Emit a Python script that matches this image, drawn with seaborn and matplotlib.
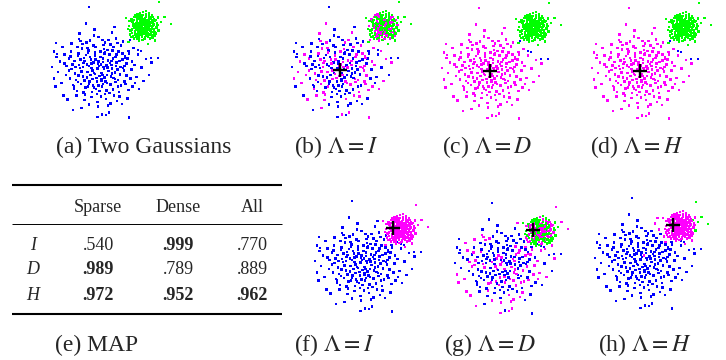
import seaborn as sns
import matplotlib.pyplot as plt
import pandas as pd

sns.set_style("white")
plt.rcParams["font.family"] = ["Liberation Serif", "DejaVu Serif"]
plt.rcParams["mathtext.fontset"] = "stix"

W, H = 726, 360
BROAD_PX = 18.0  # pixels per unit, sparse cluster
DENSE_PX = 16.0  # pixels per unit, dense cluster

# sparse (wide) gaussian, centred on its own mean
broad_pts = [
    (-0.12, 0.35), (0.84, -0.51), (-1.23, 0.77), (0.41, 1.12), (-0.66, -0.93), (1.37, 0.22), (0.05, -1.48), (-1.89, -0.27), (0.73, 0.64), (-0.34, -0.18),
    (1.05, -1.21), (-0.97, 1.44), (0.22, 0.08), (-0.51, 0.59), (1.62, 0.91), (-1.45, -1.06), (0.38, -0.72), (-0.08, 1.83), (0.96, 0.03), (-2.21, 0.46),
    (0.57, -1.87), (-0.73, -0.41), (1.18, 1.35), (-1.12, 0.11), (0.14, -0.29), (-0.29, 0.96), (2.04, -0.38), (-0.87, -1.67), (0.63, 0.27), (-1.61, 1.02),
    (0.29, 1.54), (-0.44, -1.22), (1.41, -0.77), (-0.18, -0.64), (0.88, 1.76), (-1.33, -0.55), (0.02, 0.71), (-2.48, -0.92), (1.77, 0.48), (-0.61, 0.23),
    (0.47, -0.05), (-1.02, -2.11), (0.79, -1.43), (-0.25, 1.27), (1.26, 0.57), (-1.71, 0.64), (0.11, -0.93), (-0.92, 0.39), (2.31, 0.15), (-0.39, -0.87),
    (0.66, 2.07), (-1.17, 1.71), (0.35, -1.15), (-0.02, -0.33), (1.53, -1.58), (-2.02, -1.41), (0.92, 0.86), (-0.56, 1.63), (0.18, 0.45), (-1.38, -0.19),
    (1.12, -0.24), (-0.79, 0.84), (0.51, -2.36), (-0.15, -1.79), (1.86, 1.22), (-1.53, 0.31), (0.27, 0.99), (-0.69, -0.12), (0.99, -0.92), (-2.67, 0.18),
    (0.44, 0.52), (-0.31, 2.24), (1.33, -0.03), (-1.06, -0.78), (0.07, -0.58), (-0.48, 0.12), (2.18, -1.05), (-1.25, 1.28), (0.61, -0.37), (-0.83, -1.35),
    (0.19, 1.38), (-1.96, 0.87), (1.48, 0.35), (-0.22, -1.06), (0.85, -0.66), (-0.64, 1.09), (0.32, -1.62), (-1.49, -0.83), (1.02, 1.04), (-0.05, 0.22),
    (2.56, 0.62), (-0.94, -0.36), (0.54, 0.87), (-1.81, -1.63), (1.21, -1.89), (-0.37, 0.43), (0.03, 1.02), (-1.14, 2.02), (0.71, -1.07), (-0.58, -0.64),
    (1.69, -0.46), (-2.33, -0.11), (0.24, -0.41), (-0.75, 1.52), (0.93, 0.41), (-1.28, -1.18), (0.48, 1.68), (-0.11, -2.02), (1.39, 0.79), (-1.57, 0.05),
    (0.16, 0.63), (-0.42, -0.49), (1.94, -0.72), (-0.89, 0.66), (0.59, -0.81), (-1.03, -0.08), (0.36, 0.24), (-0.17, -1.33), (1.15, 0.17), (-2.09, 1.27),
    (0.76, 1.29), (-0.62, -1.91), (1.57, -1.12), (-1.41, 0.49), (0.09, -0.17), (-0.27, 0.81), (2.73, -0.27), (-0.81, -0.98), (0.42, 0.15), (-1.19, 0.93),
    (0.67, -0.19), (-0.33, 1.91), (1.08, -1.46), (-1.66, -0.47), (0.21, 1.17), (-0.53, -0.27), (0.87, 0.71), (-2.41, 0.71), (1.29, 1.58), (-0.99, 1.19),
    (0.31, -0.63), (-0.07, -0.86), (1.74, 0.03), (-1.31, -1.42), (0.55, 0.38), (-0.71, 0.31), (0.12, -2.47), (-1.85, 0.21), (1.01, -0.55), (-0.46, -1.51),
    (0.81, 2.38), (-1.09, 0.58), (0.27, -1.34), (-0.24, 0.57), (1.46, -0.31), (-1.59, 1.47), (0.68, 0.09), (-0.85, -0.58), (2.11, 0.86), (-0.36, 1.36),
    (0.06, 0.31), (-1.22, -0.67), (0.95, -1.72), (-0.67, 0.97), (1.59, 1.06), (-2.15, -0.71), (0.39, -0.27), (-0.13, 0.09), (1.24, 0.93), (-0.91, -1.24),
    (0.58, 1.43), (-1.73, -0.03), (0.17, -0.77), (-0.55, 0.73), (1.92, 0.29), (-1.36, 0.17), (0.74, -0.44), (-0.20, -0.44), (1.09, 0.49), (-0.77, 2.58),
    (0.45, -1.96), (-1.98, 0.37), (1.36, -0.63), (-0.41, -0.03), (0.89, 0.22), (-1.08, 1.61), (0.25, 0.92), (-0.60, -0.79), (2.42, -0.61), (-1.44, -0.91),
    (0.64, 0.51), (-0.03, -1.16), (1.17, -0.87), (-0.95, 0.18), (0.13, 1.66), (-2.55, -0.46), (0.97, 1.49), (-0.28, -0.23), (1.52, 0.64), (-1.20, -0.31),
    (0.34, -2.50), (-0.70, 1.23), (0.83, -0.13), (-1.64, 0.74), (1.28, 0.12), (-0.09, 0.48), (0.53, -1.28), (-0.87, 0.49), (1.81, -0.93), (-1.51, -2.23),
    (0.20, 0.16), (-0.32, -0.96), (1.43, 0.68), (-1.16, 0.29), (0.70, 1.07), (-0.47, 0.36), (0.08, -0.51), (-2.55, 1.02), (2.85, 0.41), (-0.13, -2.60),
    (-0.60, 3.50), (1.60, -2.65), (-2.45, 1.50), (-2.40, 0.90),
    # points lying between the two clusters (stay blue in c and d)
    (1.67, 1.67), (2.10, 1.10), (2.27, 1.06), (2.83, 0.67), (3.22, 0.67),
]

# dense (tight) gaussian, offsets from its own mean
dense_pts = [
    (0.05, 0.12), (-0.31, 0.24), (0.42, -0.18), (-0.09, -0.37), (0.27, 0.45), (-0.52, -0.06), (0.14, -0.61), (0.61, 0.21), (-0.22, 0.58), (0.33, 0.03),
    (-0.41, -0.44), (0.08, 0.31), (-0.15, -0.11), (0.71, -0.35), (-0.66, 0.33), (0.19, 0.79), (-0.04, -0.82), (0.49, 0.52), (-0.36, 0.09), (0.24, -0.27),
    (-0.78, -0.22), (0.91, 0.11), (-0.11, 0.41), (0.36, -0.49), (-0.57, 0.61), (0.02, -0.05), (0.56, -0.04), (-0.27, -0.66), (0.13, 0.57), (-0.46, 0.18),
    (0.81, 0.44), (-0.19, -0.28), (0.29, 0.22), (-0.62, -0.58), (0.44, -0.72), (-0.01, 0.93), (0.67, -0.13), (-0.38, 0.37), (0.11, -0.19), (-0.87, 0.06),
    (0.21, 0.38), (-0.25, -0.02), (0.52, 0.29), (-0.07, -0.52), (0.38, 0.69), (-0.49, -0.31), (0.76, -0.57), (-0.13, 0.21), (0.17, -0.42), (-0.71, 0.48),
    (0.47, 0.07), (-0.33, -0.19), (0.04, 0.48), (-0.56, -0.71), (0.63, 0.61), (-0.18, 0.71), (0.31, -0.09), (-0.44, 0.26), (0.98, -0.21), (-0.03, -0.23),
    (0.26, 0.16), (-0.69, -0.39), (0.54, -0.31), (-0.12, 0.05), (0.09, -0.74), (-0.29, 0.49), (0.73, 0.36), (-0.54, 0.02), (0.35, 0.41), (-0.21, -0.47),
    (0.16, 0.09), (-0.95, -0.11), (0.58, -0.65), (-0.06, 0.64), (0.43, 0.18), (-0.35, -0.56), (0.85, -0.02), (-0.48, 0.74), (0.07, -0.33), (-0.16, 0.29),
    (0.32, -0.62), (-0.59, 0.14), (0.68, 0.51), (-0.24, -0.84), (0.18, 0.99), (-0.42, -0.14), (0.50, -0.19), (-0.08, 0.35), (0.39, 0.84), (-0.74, -0.62),
    (0.12, -0.08), (-0.28, 0.67), (0.62, 0.05), (-0.51, -0.48), (0.23, -0.54), (-0.02, 0.17), (0.79, -0.41), (-0.39, 0.53), (0.45, 0.27), (-0.14, -0.41),
    (1.12, 0.31), (-0.63, 0.27), (0.28, -0.36), (-0.31, -0.29), (0.55, 0.74), (-0.83, 0.39), (0.06, -0.44), (-0.19, 0.85), (0.69, -0.23), (-0.45, -0.03),
    (0.15, 0.26), (-0.37, -0.76), (0.94, 0.58), (-0.10, -0.15), (0.41, -0.11), (-0.58, 0.43), (0.20, 0.62), (-0.26, 0.11), (0.74, -0.83), (-0.68, -0.17),
    (0.34, 0.11), (-0.05, -0.63), (0.57, 0.43), (-0.47, 0.62), (0.10, 0.45), (-0.80, -0.46), (0.48, -0.46), (-0.17, 0.02), (0.87, 0.24), (-0.34, 0.81),
    (0.03, 0.24), (-0.23, -0.35), (0.46, -0.26), (-0.11, 0.51), (0.30, 0.33), (-0.50, -0.24), (0.60, -0.49), (-0.32, 0.20), (0.22, -0.15), (-0.04, 0.74),
    (0.37, 0.56), (-0.64, 0.08), (0.13, -0.30), (-0.20, 0.39), (0.65, 0.15), (-0.43, -0.64), (0.27, 0.04), (-0.09, -0.02), (0.53, 0.64), (-0.30, -0.10),
    (1.00, 1.55), (1.75, 0.20), (-1.05, 0.55), (0.30, -1.05), (1.35, 0.62), (-0.90, -0.95),
]

# dense cluster centre relative to the sparse one, in pixels
dense_center_top = (43, 43)
dense_center_bottom = (37, 34)
cross_top = (0, 0)
cross_bottom = (30, 36)

# cluster assignments per panel (b = blue, g = green, m = magenta)
b_broad = ("bmbbmmbmbbmbbmbmmbbmbbmbmbbmmbmbmbbmbbmbbmmbbmbmbbmbbmbbmbmm"
           "bbmbmbbmbbmbmmbbmbbmbmbbmbmbbmmbbmbbmmbbbmbmbbmbmbbmbbmmbbmb"
           "mbmbbmbbmmbbmbmbmbbmmbbmbbmbmbbmbmmbbmbbmbbmbmbbmmbmbbmbbmbm"
           "bbmmbmbbmbmbbmbmbmbbbmbbmbbmmbmbmbbmbbmbbmbbmbmbb")
b_dense = ("gmgggmgmggmggmgggmgggmggmgmgggmgggmggmgmggmgggmggmgmggmggggm"
           "ggmgmggmggmggggmgmgggmgmggmggggmggmgggmmgggmggmgggmgggmggmgg"
           "gmggmggmgmgmgggmggggggmggmggmmgggggg")
g_broad = ("bbmbmbbbmmbmbbmbmbbbmbbmbbmbmbbbmmbbbmbmmbbbmbmbbmbmbbbmmbbb"
           "mbmbbmbbmbbbmbmbbbmmbmbmbbmbbmbbbmbmbbmbmbbmbbbmbmbbmbmmbbbm"
           "bmbbmbbmbbmbmbbbmbmbbbmbmbbmbbmbbmbmbbmbbbmbbmbmbbbmbbmbmbbb"
           "mbbmbmbbmbbbmbbmbbmbmbbmbmbbbmbbmbmbbbmmbbbbbbbbb")
g_dense = ("gmgmggmmggmgmggmgmgmggmmgmggmgmggmgmgmgggmggmmgmggmgmgmggmgm"
           "ggmgmgmmggmgggmgmgmggmmggmgggmmgmggmgmgggmgmgmggmgmggmgmggmm"
           "gmgggmgmggmgmgmggmggggmgmgmgmgmmgmmm")
h_broad_magenta = [22, 34, 50, 64, 138, 150, 160]
h_dense_green = [30, 58, 100, 150, 151, 154]

palette = {"b": "#0000ff", "g": "#00ff00", "m": "#ff00ff"}

# MAP table
table_rows = ["I", "D", "H"]
table_cols = ["Sparse", "Dense", "All"]
map_values = [[".540", ".999", ".770"],
              [".989", ".789", ".889"],
              [".972", ".952", ".962"]]
map_bold = [[False, True, False],
            [True, False, False],
            [True, True, True]]


def paint(n, base, pattern="", other=None, idx=()):
    cols = list((pattern + base * n)[:n])
    for i in idx:
        cols[i] = other
    return cols


nb, nd = len(broad_pts), len(dense_pts)
fig = plt.figure(figsize=(W / 100, H / 100), dpi=100)


def panel(cx, cy, dense_c, broad_cols, dense_cols, cross=None):
    # axes measured in pixels around the sparse-cluster mean (y up)
    x0, x1, y0, y1 = -58, 78, -60, 76
    ax = fig.add_axes([(cx + x0) / W, 1 - (cy - y0) / H, (x1 - x0) / W, (y1 - y0) / H])
    df = pd.DataFrame({
        "x": [p[0] * BROAD_PX for p in broad_pts] + [dense_c[0] + p[0] * DENSE_PX for p in dense_pts],
        "y": [p[1] * BROAD_PX for p in broad_pts] + [dense_c[1] + p[1] * DENSE_PX for p in dense_pts],
        "c": broad_cols + dense_cols,
    })
    sns.scatterplot(data=df, x="x", y="y", hue="c", palette=palette, marker="s",
                    s=3.2, linewidth=0, legend=False, ax=ax)
    if cross is not None:
        ax.plot(cross[0], cross[1], marker="+", color="black", ms=9.5, mew=1.7)
    ax.set_xlim(x0, x1)
    ax.set_ylim(y0, y1)
    ax.set_axis_off()


# top row: (a) truth, (b)-(d) results
panel(100, 70, dense_center_top, paint(nb, "b"), paint(nd, "g"))
panel(340, 70, dense_center_top, paint(nb, "b", b_broad), paint(nd, "g", b_dense), cross_top)
panel(490, 71, dense_center_top, paint(nb, "m", other="b", idx=range(nb - 5, nb)), paint(nd, "g"), cross_top)
panel(640, 71, dense_center_top, paint(nb, "m", other="b", idx=range(nb - 5, nb)), paint(nd, "g"), cross_top)

# bottom row: (f)-(h)
panel(363, 264, dense_center_bottom, paint(nb, "b"), paint(nd, "m"), cross_bottom)
panel(503, 266, dense_center_bottom, paint(nb, "b", g_broad), paint(nd, "g", g_dense), cross_bottom)
panel(643, 261, dense_center_bottom, paint(nb, "b", other="m", idx=h_broad_magenta),
      paint(nd, "m", other="g", idx=h_dense_green), cross_bottom)

# overlay in pixel coordinates for table and captions
ov = fig.add_axes([0, 0, 1, 1])
ov.set_xlim(0, W)
ov.set_ylim(H, 0)
ov.set_axis_off()

ov.hlines(185, 12, 282, color="black", lw=1.5)
ov.hlines(224, 12, 282, color="black", lw=0.7)
ov.hlines(314, 12, 282, color="black", lw=1.5)
col_x = [98, 178, 252]
row_y = [245, 270, 295]
for x, c in zip(col_x, table_cols):
    ov.text(x, 207, c, ha="center", va="center", fontsize=13)
for i, r in enumerate(table_rows):
    ov.text(33, row_y[i], r, ha="center", va="center", fontsize=13, style="italic")
    for j, v in enumerate(map_values[i]):
        ov.text(col_x[j], row_y[i], v, ha="center", va="center", fontsize=13,
                weight="bold" if map_bold[i][j] else "normal")

captions = [
    ("(a) Two Gaussians", 144, 147),
    (r"(b) $\Lambda = I$", 336, 147),
    (r"(c) $\Lambda = D$", 487, 147),
    (r"(d) $\Lambda = H$", 637, 147),
    ("(e) MAP", 97, 345),
    (r"(f) $\Lambda = I$", 334, 345),
    (r"(g) $\Lambda = D$", 490, 345),
    (r"(h) $\Lambda = H$", 645, 345),
]
for txt, x, y in captions:
    ov.text(x, y, txt, ha="center", va="center", fontsize=17)

plt.savefig("out.png", dpi=100)
plt.close()
